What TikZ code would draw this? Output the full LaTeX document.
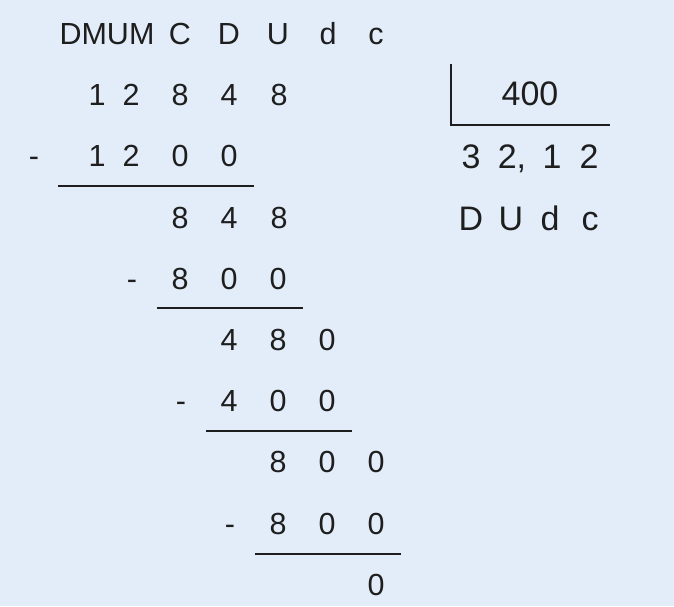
\documentclass[tikz,border=0pt]{standalone}
\usepackage{fontspec}
\setmainfont{Liberation Sans}
\usepackage{xcolor}
\usepackage{tikz}
\definecolor{bgcolor}{HTML}{E3EDF9}
\definecolor{inkcolor}{HTML}{1E1E1E}

\begin{document}
\begin{tikzpicture}[x=1pt, y=-1pt,
  digit/.style={anchor=base, inner sep=0pt, text=inkcolor, font=\fontsize{30.5pt}{36pt}\selectfont},
  bigdigit/.style={anchor=base, inner sep=0pt, text=inkcolor, font=\fontsize{34pt}{40pt}\selectfont},
  rule/.style={draw=inkcolor, line width=1.8pt}]%
\fill[bgcolor] (0, 0) rectangle (674, 606);%
\useasboundingbox (0, 0) rectangle (674, 606);%
% place values
\node[digit] (hDMUM) at (107, 44.5) {DMUM};%
\node[digit] (hC) at (180, 44.5) {C};%
\node[digit] (hD) at (229, 44.5) {D};%
\node[digit] (hU) at (278, 44.5) {U};%
\node[digit] (hd) at (328, 44.5) {d};%
\node[digit] (hc) at (376, 44.5) {c};%
% dividend
\node[digit] (a1) at (97, 105.7) {1};%
\node[digit] (a2) at (131, 105.7) {2};%
\node[digit] (a3) at (180, 105.7) {8};%
\node[digit] (a4) at (229, 105.7) {4};%
\node[digit] (a5) at (279, 105.7) {8};%
\node[digit] (bm) at (34, 166.9) {-};%
\node[digit] (b1) at (97, 166.9) {1};%
\node[digit] (b2) at (131, 166.9) {2};%
\node[digit] (b3) at (180, 166.9) {0};%
\node[digit] (b4) at (229, 166.9) {0};%
\draw[rule] (58, 186) -- (254, 186);%
\node[digit] (c1) at (180, 228.1) {8};%
\node[digit] (c2) at (229, 228.1) {4};%
\node[digit] (c3) at (279, 228.1) {8};%
\node[digit] (dm) at (132, 289.3) {-};%
\node[digit] (d1) at (180, 289.3) {8};%
\node[digit] (d2) at (229, 289.3) {0};%
\node[digit] (d3) at (278, 289.3) {0};%
\draw[rule] (157, 308) -- (303, 308);%
\node[digit] (e1) at (229, 350.5) {4};%
\node[digit] (e2) at (278, 350.5) {8};%
\node[digit] (e3) at (327, 350.5) {0};%
\node[digit] (fm) at (181, 411.7) {-};%
\node[digit] (f1) at (229, 411.7) {4};%
\node[digit] (f2) at (278, 411.7) {0};%
\node[digit] (f3) at (327, 411.7) {0};%
\draw[rule] (206, 431) -- (352, 431);%
\node[digit] (g1) at (278, 472.9) {8};%
\node[digit] (g2) at (327, 472.9) {0};%
\node[digit] (g3) at (376, 472.9) {0};%
\node[digit] (hm) at (230, 534.1) {-};%
\node[digit] (h1) at (278, 534.1) {8};%
\node[digit] (h2) at (327, 534.1) {0};%
\node[digit] (h3) at (376, 534.1) {0};%
\draw[rule] (255, 554) -- (401, 554);%
\node[digit] (rest) at (376, 595.3) {0};%
% divisor and quotient
\draw[rule] (451, 64) -- (451, 125) -- (610, 125);%
\node[bigdigit] (divisor) at (530, 105) {400};%
\node[bigdigit] (q1) at (471, 168) {3};%
\node[bigdigit] (q2) at (512, 168) {2,};%
\node[bigdigit] (q3) at (552, 168) {1};%
\node[bigdigit] (q4) at (589, 168) {2};%
\node[bigdigit] (qD) at (471, 230) {D};%
\node[bigdigit] (qU) at (511, 230) {U};%
\node[bigdigit] (qd) at (550, 230) {d};%
\node[bigdigit] (qc) at (590, 230) {c};%
\end{tikzpicture}
\end{document}
